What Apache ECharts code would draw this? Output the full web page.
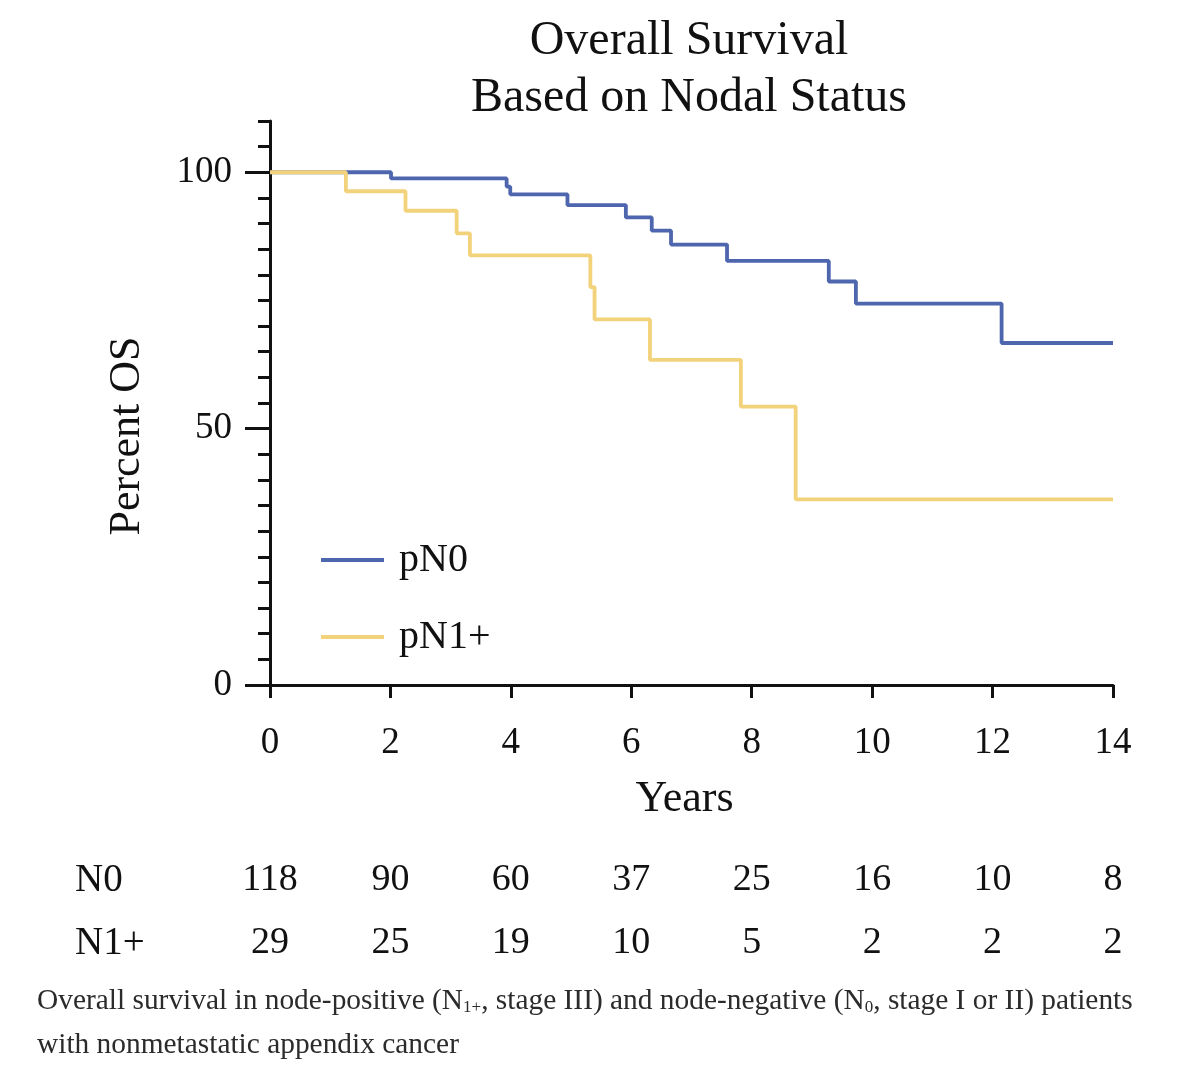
<!DOCTYPE html>
<html>
<head>
<meta charset="utf-8">
<script src="https://cdn.jsdelivr.net/npm/echarts@6/dist/echarts.min.js"></script>
<style>
  html, body { margin: 0; padding: 0; background: #fff; }
  #chart { width: 1200px; height: 1084px; }
</style>
</head>
<body>
<div id="chart"></div>
<script>
// 生存曲线数据 (years, percent OS)
var n0Years = [0, 2.01, 3.93, 3.99, 4.94, 5.91, 6.34, 6.66, 7.59, 9.28, 9.73, 12.15, 14];
var n0Os = [100, 98.8, 97.2, 95.7, 93.6, 91.2, 88.6, 85.9, 82.7, 78.7, 74.4, 66.7, 66.7];
var n1Years = [0, 1.26, 2.25, 3.10, 3.32, 5.32, 5.39, 6.31, 7.82, 8.73, 14];
var n1Os = [100, 96.3, 92.5, 88.1, 83.8, 77.6, 71.3, 63.4, 54.3, 36.2, 36.2];

// number at risk
var riskYears = [0, 2, 4, 6, 8, 10, 12, 14];
var riskRows = ['N0', 'N1+'];
var riskN0 = [118, 90, 60, 37, 25, 16, 10, 8];
var riskN1 = [29, 25, 19, 10, 5, 2, 2, 2];

var yMajor = [0, 50, 100];
var serif = 'Liberation Serif';

(function () {
  var myChart = echarts.init(document.getElementById('chart'));

  function pairs(xs, ys) {
    return xs.map(function (x, i) { return [x, ys[i]]; });
  }
  var riskData = [];
  riskYears.forEach(function (t, i) {
    riskData.push([t, riskRows[0], riskN0[i]]);
    riskData.push([t, riskRows[1], riskN1[i]]);
  });

  var captionRich = {
    sub: { fontSize: 17, fontFamily: serif, fill: '#2b2b2b', verticalAlign: 'bottom', padding: [3, 0, 0, 0] }
  };

  var option = {
    animation: false,
    backgroundColor: '#fff',
    title: {
      text: 'Overall Survival\nBased on Nodal Status',
      left: 684,
      top: 8,
      textAlign: 'center',
      textStyle: {
        fontFamily: serif,
        fontSize: 48,
        fontWeight: 'normal',
        color: '#111',
        lineHeight: 57
      }
    },
    legend: {
      orient: 'vertical',
      left: 316,
      top: 535,
      itemWidth: 63,
      itemHeight: 4,
      itemGap: 37,
      icon: 'rect',
      textStyle: {
        fontFamily: serif,
        fontSize: 40,
        color: '#111',
        padding: [0, 0, 0, 10]
      },
      data: ['pN0', 'pN1+']
    },
    grid: [
      { left: 270, right: 87, top: 121, height: 564 },
      { left: 270, right: 87, top: 849, height: 126 }
    ],
    xAxis: [
      {
        gridIndex: 0,
        type: 'value',
        min: 0,
        max: 14,
        interval: 2,
        name: 'Years',
        nameLocation: 'middle',
        nameGap: 92,
        nameTextStyle: { fontFamily: serif, fontSize: 44, color: '#111', padding: [0, 14, 0, 0] },
        axisLine: { onZero: false, lineStyle: { color: '#111', width: 3 } },
        axisTick: { length: 13, lineStyle: { color: '#111', width: 3 } },
        axisLabel: { fontFamily: serif, fontSize: 37, color: '#111', margin: 40 },
        splitLine: { show: false }
      },
      {
        gridIndex: 1,
        type: 'value',
        min: 0,
        max: 14,
        show: false
      }
    ],
    yAxis: [
      {
        gridIndex: 0,
        type: 'value',
        min: 0,
        max: 110,
        interval: 5,
        axisLine: { show: true, lineStyle: { color: '#111', width: 3 } },
        axisTick: { length: 12, lineStyle: { color: '#111', width: 3 } },
        axisLabel: {
          customValues: yMajor,
          fontFamily: serif, fontSize: 37, color: '#111', margin: 38
        },
        splitLine: { show: false }
      },
      {
        // 主刻度 (长刻度)
        gridIndex: 0,
        type: 'value',
        position: 'left',
        min: 0,
        max: 110,
        axisLine: { show: false },
        axisTick: {
          show: true,
          customValues: yMajor,
          length: 25,
          lineStyle: { color: '#111', width: 3 }
        },
        axisLabel: { show: false },
        splitLine: { show: false }
      },
      {
        gridIndex: 1,
        type: 'category',
        data: riskRows,
        inverse: true,
        axisLine: { show: false },
        axisTick: { show: false },
        axisLabel: {
          align: 'left',
          margin: 195,
          fontFamily: serif, fontSize: 39, color: '#111'
        }
      }
    ],
    graphic: [
      {
        // y轴名称，居中于 0-100
        type: 'text',
        x: 127,
        y: 436,
        rotation: Math.PI / 2,
        style: {
          text: 'Percent OS',
          fontFamily: serif,
          fontSize: 44,
          fill: '#111',
          align: 'center',
          verticalAlign: 'middle'
        }
      },
      {
        type: 'text',
        left: 37,
        top: 987,
        style: {
          text: 'Overall survival in node-positive (N{sub|1+}, stage III) and node-negative (N{sub|0}, stage I or II) patients',
          fontFamily: serif,
          fontSize: 29.4,
          fill: '#2b2b2b',
          rich: captionRich
        }
      },
      {
        type: 'text',
        left: 37,
        top: 1031,
        style: {
          text: 'with nonmetastatic appendix cancer',
          fontFamily: serif,
          fontSize: 29.4,
          fill: '#2b2b2b'
        }
      }
    ],
    series: [
      {
        name: 'pN0',
        type: 'line',
        step: 'end',
        xAxisIndex: 0,
        yAxisIndex: 0,
        symbol: 'none',
        color: '#4d66ae',
        lineStyle: { width: 3.8 },
        data: pairs(n0Years, n0Os)
      },
      {
        name: 'pN1+',
        type: 'line',
        step: 'end',
        xAxisIndex: 0,
        yAxisIndex: 0,
        symbol: 'none',
        color: '#f2d27b',
        lineStyle: { width: 3.8 },
        data: pairs(n1Years, n1Os)
      },
      {
        name: 'risk',
        type: 'scatter',
        xAxisIndex: 1,
        yAxisIndex: 2,
        symbolSize: 1,
        silent: true,
        itemStyle: { color: 'rgba(0,0,0,0)' },
        label: {
          show: true,
          position: 'inside',
          fontFamily: serif,
          fontSize: 38,
          color: '#111',
          opacity: 1,
          formatter: function (p) { return p.value[2]; }
        },
        data: riskData
      }
    ]
  };

  myChart.setOption(option);
  window.addEventListener('resize', function () {
    myChart.resize();
  });
})();
</script>
</body>
</html>
